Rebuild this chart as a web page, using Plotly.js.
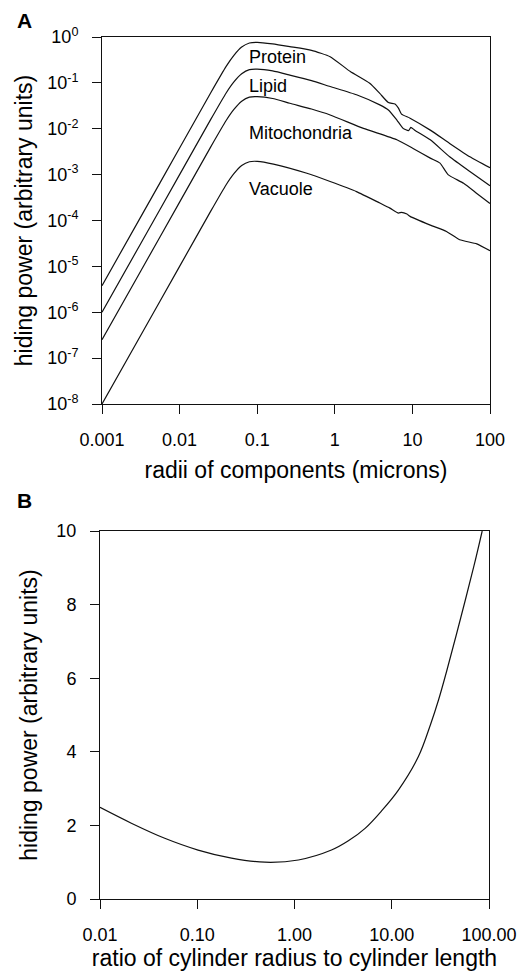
<!DOCTYPE html>
<html>
<head>
<meta charset="utf-8">
<script src="https://cdn.plot.ly/plotly-3.0.1.min.js"></script>
<style>html,body{margin:0;padding:0;background:#fff;}#chart{width:520px;height:979px;}</style>
</head>
<body>
<div id="chart"></div>
<script>
// ---------- Panel A data: hiding power vs radius (microns) ----------
var proteinRadius = [0.001, 0.00316, 0.01, 0.0251, 0.0398, 0.0501, 0.0631, 0.0794, 0.1, 0.158, 0.263, 0.501, 0.871, 1.585, 2.818, 3.80, 4.90, 5.97, 6.61, 7.24, 9.33, 17.0, 30.2, 55.0, 100];
var proteinPower  = [3.80e-6, 1.20e-4, 3.80e-3, 0.0603, 0.229, 0.398, 0.603, 0.741, 0.767, 0.708, 0.617, 0.513, 0.372, 0.176, 0.0977, 0.0589, 0.0372, 0.0347, 0.0282, 0.0209, 0.0170, 9.33e-3, 4.79e-3, 2.45e-3, 1.41e-3];

var lipidRadius = [0.001, 0.00316, 0.01, 0.0251, 0.0398, 0.0501, 0.0631, 0.0794, 0.1, 0.158, 0.263, 0.501, 0.871, 1.905, 3.80, 4.90, 6.31, 7.59, 8.91, 9.55, 10.7, 17.0, 30.2, 55.0, 100];
var lipidPower  = [1.0e-6, 3.16e-5, 1.0e-3, 0.0158, 0.0603, 0.105, 0.158, 0.195, 0.200, 0.182, 0.148, 0.112, 0.0832, 0.0550, 0.0331, 0.0257, 0.0155, 0.0102, 9.12e-3, 0.0107, 9.33e-3, 5.75e-3, 2.45e-3, 1.17e-3, 5.75e-4];

var mitoRadius = [0.001, 0.00316, 0.01, 0.0251, 0.0398, 0.0501, 0.0631, 0.0794, 0.1, 0.158, 0.263, 0.501, 0.871, 2.34, 6.31, 10.2, 17.0, 22.7, 28.8, 45.7, 67.6, 100];
var mitoPower  = [2.51e-7, 7.94e-6, 2.51e-4, 3.98e-3, 0.0151, 0.0263, 0.0398, 0.0490, 0.0501, 0.0457, 0.0359, 0.0269, 0.0200, 0.0102, 5.75e-3, 3.72e-3, 2.29e-3, 1.78e-3, 1.0e-3, 6.46e-4, 3.89e-4, 2.34e-4];

var vacuoleRadius = [0.001, 0.00316, 0.01, 0.0251, 0.0398, 0.0501, 0.0631, 0.0794, 0.1, 0.162, 0.437, 0.871, 1.905, 3.80, 5.13, 6.61, 7.24, 8.51, 9.33, 17.0, 27.5, 40.7, 67.6, 100];
var vacuolePower  = [1.0e-8, 3.16e-7, 1.0e-5, 1.58e-4, 6.03e-4, 1.05e-3, 1.58e-3, 1.91e-3, 1.95e-3, 1.70e-3, 1.07e-3, 7.08e-4, 4.27e-4, 2.40e-4, 1.86e-4, 1.45e-4, 1.51e-4, 1.38e-4, 1.23e-4, 7.94e-5, 5.75e-5, 3.80e-5, 3.09e-5, 2.19e-5];

var seriesNames = ["Protein", "Lipid", "Mitochondria", "Vacuole"];

var aTickVals = [0.001, 0.01, 0.1, 1, 10, 100];
var aTickText = ["0.001", "0.01", "0.1", "1", "10", "100"];
var aYTickVals = [1, 1e-1, 1e-2, 1e-3, 1e-4, 1e-5, 1e-6, 1e-7, 1e-8];
var aYTickText = ["10<sup>0</sup>", "10<sup>-1</sup>", "10<sup>-2</sup>", "10<sup>-3</sup>", "10<sup>-4</sup>", "10<sup>-5</sup>", "10<sup>-6</sup>", "10<sup>-7</sup>", "10<sup>-8</sup>"];

// ---------- Panel B data: hiding power vs ratio of cylinder radius to length ----------
var ratio = [0.01, 0.0210, 0.0463, 0.102, 0.225, 0.497, 1.096, 2.40, 3.58, 5.32, 7.89, 11.7, 18.8, 25.1, 30.2, 37.2, 51.3, 70.0, 85.1];
var cylPower = [2.49, 2.06, 1.65, 1.33, 1.11, 1.0, 1.06, 1.33, 1.58, 1.92, 2.40, 2.96, 3.87, 4.75, 5.4, 6.25, 7.65, 9.05, 10.0];

var bTickVals = [0.01, 0.1, 1, 10, 100];
var bTickText = ["0.01", "0.10", "1.00", "10.00", "100.00"];
var bYTickVals = [0, 2, 4, 6, 8, 10];

// ---------- Styling ----------
var FONT = "Liberation Sans, Arial, Helvetica, sans-serif";

function mk(x, y, name, xa, ya, smooth) {
  return {x: x, y: y, name: name, type: "scatter", mode: "lines",
          line: {color: "#111", width: 1.2, shape: "spline", smoothing: smooth},
          xaxis: xa, yaxis: ya, showlegend: false, hoverinfo: "x+y+name"};
}

var data = [
  mk(proteinRadius, proteinPower, seriesNames[0], "x", "y", 0.5),
  mk(lipidRadius, lipidPower, seriesNames[1], "x", "y", 0.5),
  mk(mitoRadius, mitoPower, seriesNames[2], "x", "y", 0.5),
  mk(vacuoleRadius, vacuolePower, seriesNames[3], "x", "y", 0.5),
  mk(ratio, cylPower, "cylinder", "x2", "y2", 1.0)
];

var W = 520, H = 979;
function px2x(p) { return p / W; }
function py2y(p) { return 1 - p / H; }

var axCommon = {
  showline: true, mirror: true, linecolor: "#111", linewidth: 1,
  ticks: "outside", ticklen: 9, tickwidth: 1, tickcolor: "#111",
  showgrid: false, zeroline: false, automargin: false,
  tickfont: {family: FONT, size: 18, color: "#000"},
  ticklabelstandoff: 10
};
function ax(extra) { return Object.assign({}, axCommon, extra); }

var titleFont = {family: FONT, size: 23, color: "#000"};

var layout = {
  width: W, height: H,
  margin: {l: 0, r: 0, t: 0, b: 0},
  paper_bgcolor: "#fff", plot_bgcolor: "#fff",
  font: {family: FONT, color: "#000"},
  showlegend: false,
  xaxis: ax({type: "log", range: [-3, 2], domain: [px2x(102), px2x(490)], anchor: "y",
             tickvals: aTickVals, ticktext: aTickText,
             title: {text: "radii of components (microns)", font: titleFont, standoff: 13}}),
  yaxis: ax({type: "log", range: [-8, 0], domain: [py2y(404), py2y(37)], anchor: "x",
             tickvals: aYTickVals, ticktext: aYTickText,
             title: {text: "hiding power (arbitrary units)", font: titleFont, standoff: 8}}),
  xaxis2: ax({type: "log", range: [-2, 2], domain: [px2x(100), px2x(489)], anchor: "y2",
              tickvals: bTickVals, ticktext: bTickText,
              title: {text: "ratio of cylinder radius to cylinder length", font: titleFont, standoff: 6}}),
  yaxis2: ax({type: "linear", range: [0, 10], domain: [py2y(899), py2y(531)], anchor: "x2",
              tickvals: bYTickVals,
              title: {text: "hiding power (arbitrary units)", font: titleFont, standoff: 12}}),
  annotations: [
    {text: "<b>A</b>", xref: "paper", yref: "paper", x: px2x(15), y: py2y(20.5), xanchor: "left", yanchor: "middle",
     showarrow: false, font: {family: FONT, size: 21, color: "#000"}},
    {text: "<b>B</b>", xref: "paper", yref: "paper", x: px2x(15), y: py2y(500.5), xanchor: "left", yanchor: "middle",
     showarrow: false, font: {family: FONT, size: 21, color: "#000"}},
    {text: seriesNames[0], xref: "x", yref: "y", x: -1.13, y: -0.44, xanchor: "left", yanchor: "middle", showarrow: false,
     font: {family: FONT, size: 18, color: "#000"}},
    {text: seriesNames[1], xref: "x", yref: "y", x: -1.13, y: -1.07, xanchor: "left", yanchor: "middle", showarrow: false,
     font: {family: FONT, size: 18, color: "#000"}},
    {text: seriesNames[2], xref: "x", yref: "y", x: -1.13, y: -2.10, xanchor: "left", yanchor: "middle", showarrow: false,
     font: {family: FONT, size: 18, color: "#000"}},
    {text: seriesNames[3], xref: "x", yref: "y", x: -1.13, y: -3.31, xanchor: "left", yanchor: "middle", showarrow: false,
     font: {family: FONT, size: 18, color: "#000"}}
  ]
};

Plotly.newPlot("chart", data, layout, {staticPlot: true, displayModeBar: false});
</script>
</body>
</html>
